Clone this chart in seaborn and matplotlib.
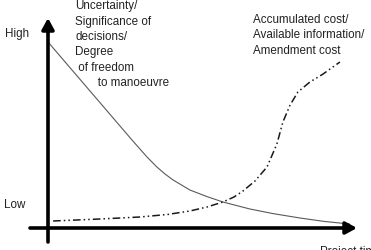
import matplotlib
matplotlib.use("Agg")
import matplotlib.pyplot as plt
import seaborn as sns
import pandas as pd

sns.set_theme(style="white")
plt.rcParams['font.family'] = ['Liberation Sans', 'DejaVu Sans']

# Data (time units 0..10, value units 0..10)
flex_t = [0, 1.0, 2.0, 2.8, 3.3, 3.63, 3.9, 4.17, 4.73, 5.3, 5.83, 6.73, 7.5, 8.4, 9.2, 10.05]
flex_v = [9.3, 7.55, 5.8, 4.4, 3.55, 3.05, 2.7, 2.4, 1.9, 1.57, 1.3, 0.95, 0.72, 0.5, 0.33, 0.2]

cost_t = [0.17, 1.73, 3.07, 4.0, 4.73, 5.3, 5.83, 6.2, 6.5, 6.9, 7.3, 7.63, 7.83, 8.07, 8.33, 8.73, 9.17, 9.73]
cost_v = [0.35, 0.45, 0.55, 0.68, 0.85, 1.05, 1.3, 1.55, 1.85, 2.35, 3.05, 4.2, 5.3, 6.15, 6.8, 7.3, 7.7, 8.3]

label_flex = "Uncertainty/\nSignificance of\ndecisions/\nDegree\n of freedom\n       to manoeuvre"
label_cost = "Accumulated cost/\nAvailable information/\nAmendment cost"
y_high, y_low = "High", "Low"
x_label = "Project time"

df_flex = pd.DataFrame({"t": flex_t, "v": flex_v})
df_cost = pd.DataFrame({"t": cost_t, "v": cost_v})

W, H = 371, 251
fig = plt.figure(figsize=(W / 100, H / 100), dpi=100)
ax = fig.add_axes([0, 0, 1, 1])
ax.set_xlim((0 - 48) / 30, (W - 48) / 30)
ax.set_ylim((229 - H) / 20, 229 / 20)
ax.axis("off")

sns.lineplot(data=df_flex, x="t", y="v", ax=ax, color="#5a5a5a", lw=0.8,
             sort=False, estimator=None)
sns.lineplot(data=df_cost, x="t", y="v", ax=ax, color="#1a1a1a", lw=1.1,
             sort=False, estimator=None)
ax.lines[-1].set_dashes([5, 2, 1, 2, 1, 2])
for ln in ax.lines:
    ln.set_solid_joinstyle("round")
    ln.set_dash_joinstyle("round")

# axes arrows
ax.annotate("", xy=(0, (229 - 19) / 20), xytext=(0, (229 - 243) / 20),
            arrowprops=dict(arrowstyle="-|>,head_length=0.55,head_width=0.3",
                            lw=2.6, color="black", shrinkA=0, shrinkB=0))
ax.annotate("", xy=((357 - 48) / 30, 0), xytext=((30 - 48) / 30, 0),
            arrowprops=dict(arrowstyle="-|>,head_length=0.55,head_width=0.3",
                            lw=2.6, color="black", shrinkA=0, shrinkB=0))

fs = 8.4
fig.text(5 / W, 1 - 34 / H, y_high, fontsize=fs, va="center", ha="left", color="#222")
fig.text(4 / W, 1 - 205 / H, y_low, fontsize=fs, va="center", ha="left", color="#222")
fig.text(75 / W, 1 - 0.5 / H, label_flex, fontsize=fs, va="top", ha="left",
         linespacing=1.37, color="#222")
fig.text(253 / W, 1 - 14 / H, label_cost, fontsize=fs, va="top", ha="left",
         linespacing=1.37, color="#222")
fig.text(320 / W, 1 - 252 / H, x_label, fontsize=fs, va="center", ha="left", color="#222")

fig.savefig("out.png", dpi=100)
